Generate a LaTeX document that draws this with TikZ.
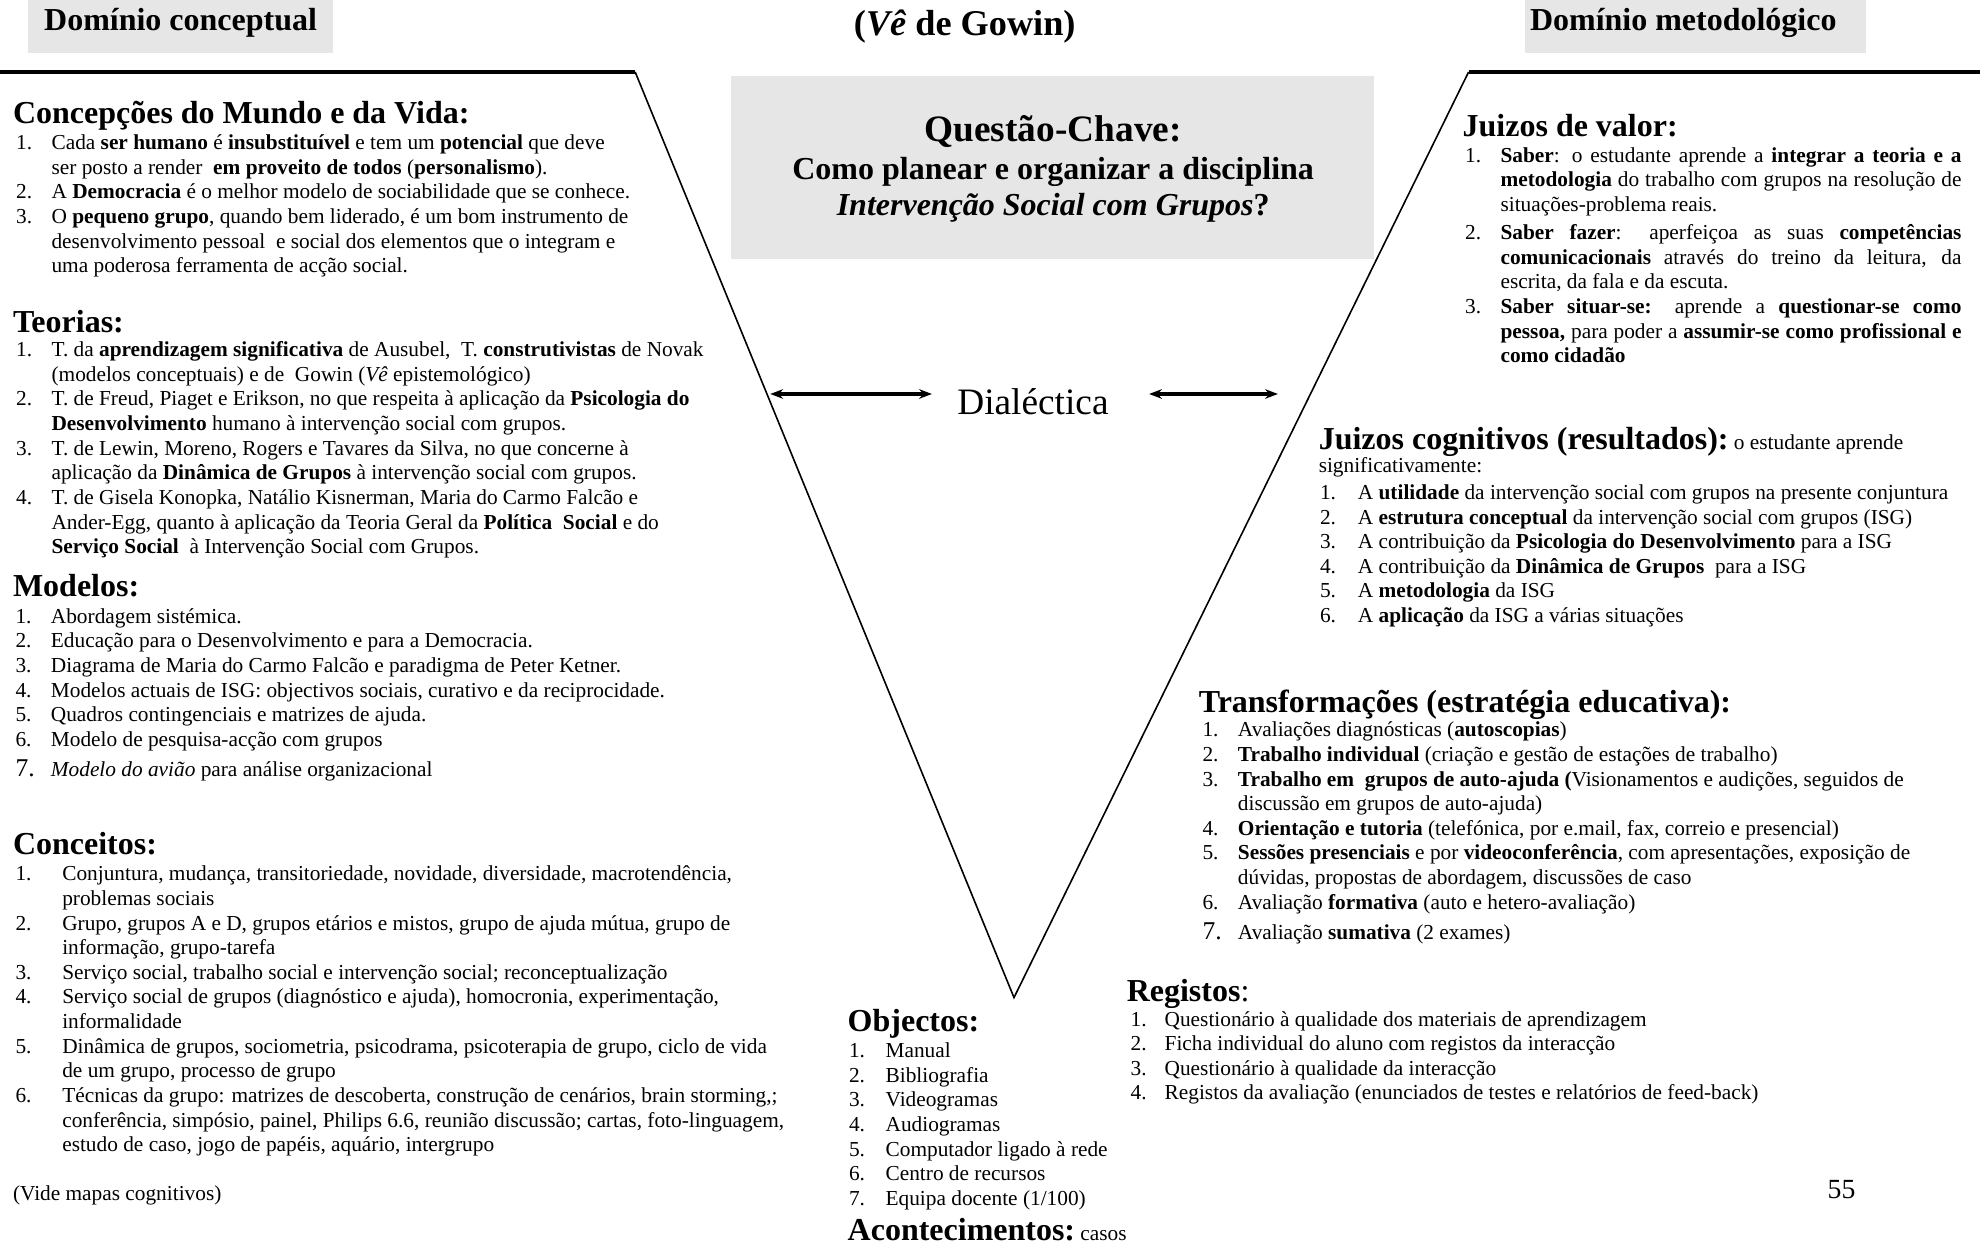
\documentclass[tikz,border=0pt]{standalone}
\usepackage{fontspec}
\setmainfont{Liberation Serif}
\usetikzlibrary{arrows.meta}
\newlength{\dpx}
\setlength{\dpx}{0.5922pt}
\definecolor{boxgray}{HTML}{E6E6E6}
\newcommand{\itemlist}[2]{\begin{tabular}[t]{@{}p{#1\dpx}@{}l@{}}#2\end{tabular}}
\newcommand{\seven}{{\fontsize{12}{12}\selectfont 7.}}
\newcommand{\jline}[1]{\makebox[365\dpx][s]{#1}}
\tikzset{
  head/.style={anchor=base west, inner sep=0pt, font=\fontsize{15}{17}\selectfont\bfseries},
  body/.style={anchor=base west, inner sep=0pt, font=\fontsize{10}{11.55}\selectfont},
  big/.style={inner sep=0pt, font=\fontsize{17.5}{20}\selectfont},
  dial/.style={{Stealth[length=6pt,width=4.5pt]}-{Stealth[length=6pt,width=4.5pt]}, line width=1.6pt},
}
\begin{document}
\begin{tikzpicture}[x=0.5922pt,y=-0.5922pt]
    \useasboundingbox (0,0) rectangle (1568,985);
    % grey boxes
    \fill[boxgray] (22,-5) rectangle (264,42);
    \fill[boxgray] (1208,-5) rectangle (1478,42);
    \fill[boxgray] (579,60) rectangle (1088,205);
    \node[head, anchor=center] (dc) at (143,18) {Domínio conceptual};
    \node[head, anchor=center] (dm) at (1333,18) {Domínio metodológico};
    \node[big, anchor=center, font=\fontsize{17}{20}\selectfont\bfseries] (gowin) at (764,21) {(\textit{Vê} de Gowin)};
    \node[big, anchor=base, font=\fontsize{17.5}{20}\selectfont\bfseries] (q) at (834,112) {Questão-Chave:};
    \node[big, anchor=base, font=\fontsize{15}{17}\selectfont\bfseries] (q1) at (834,142) {Como planear e organizar a disciplina};
    \node[big, anchor=base, font=\fontsize{15}{17}\selectfont\bfseries] (q2) at (834,171) {\textit{Intervenção Social com Grupos}?};
    % the V
    \coordinate (L0) at (0,57);
    \coordinate (L1) at (503,57);
    \coordinate (B) at (803,790);
    \coordinate (R1) at (1163,57);
    \coordinate (R0) at (1568,57);
    \draw[line width=1.5pt] (L0) -- (L1);
    \draw[line width=1.5pt] (R1) -- (R0);
    \draw[line width=0.75pt] (L1) -- (B) -- (R1);
    % dialectica
    \node[big, anchor=base] (dial) at (818,328) {Dialéctica};
    \coordinate (a1) at (610,312);
    \coordinate (a2) at (738,312);
    \coordinate (a3) at (910,312);
    \coordinate (a4) at (1012,312);
    \draw[dial] (a1) -- (a2);
    \draw[dial] (a3) -- (a4);
    % conceptual side
    \node[head] (cmv) at (10,98) {Concepções do Mundo e da Vida:};
    \node[body] (cmvl) at (12.5,118.5) {\itemlist{28}{%
      1. & Cada \textbf{ser humano} é \textbf{insubstituível} e tem um \textbf{potencial} que deve\\
         & ser posto a render\ \ \textbf{em proveito de todos} (\textbf{personalismo}).\\
      2. & A \textbf{Democracia} é o melhor modelo de sociabilidade que se conhece.\\
      3. & O \textbf{pequeno grupo}, quando bem liderado, é um bom instrumento de\\
         & desenvolvimento pessoal\ \ e social dos elementos que o integram e\\
         & uma poderosa ferramenta de acção social.}};
    \node[head] (teo) at (10,263) {Teorias:};
    \node[body] (teol) at (12.5,282.5) {\itemlist{28}{%
      1. & T. da \textbf{aprendizagem significativa} de Ausubel,\ \ T. \textbf{construtivistas} de Novak\\
         & (modelos conceptuais) e de\ \ Gowin (\textit{Vê} epistemológico)\\
      2. & T. de Freud, Piaget e Erikson, no que respeita à aplicação da \textbf{Psicologia do}\\
         & \textbf{Desenvolvimento} humano à intervenção social com grupos.\\
      3. & T. de Lewin, Moreno, Rogers e Tavares da Silva, no que concerne à\\
         & aplicação da \textbf{Dinâmica de Grupos} à intervenção social com grupos.\\
      4. & T. de Gisela Konopka, Natálio Kisnerman, Maria do Carmo Falcão e\\
         & Ander-Egg, quanto à aplicação da Teoria Geral da \textbf{Política\ \ Social} e do\\
         & \textbf{Serviço Social}\ \ à Intervenção Social com Grupos.}};
    \node[head] (mod) at (10,472) {Modelos:};
    \node[body] (modl) at (12,493.5) {\itemlist{28}{%
      1. & Abordagem sistémica.\\
      2. & Educação para o Desenvolvimento e para a Democracia.\\
      3. & Diagrama de Maria do Carmo Falcão e paradigma de Peter Ketner.\\
      4. & Modelos actuais de ISG: objectivos sociais, curativo e da reciprocidade.\\
      5. & Quadros contingenciais e matrizes de ajuda.\\
      6. & Modelo de pesquisa-acção com grupos\\[2.7pt]
      \seven & \textit{Modelo do avião} para análise organizacional}};
    \node[head] (con) at (10,677) {Conceitos:};
    \node[body] (conl) at (12,697.5) {\itemlist{37}{%
      1. & Conjuntura, mudança, transitoriedade, novidade, diversidade, macrotendência,\\
         & problemas sociais\\
      2. & Grupo, grupos A e D, grupos etários e mistos, grupo de ajuda mútua, grupo de\\
         & informação, grupo-tarefa\\
      3. & Serviço social, trabalho social e intervenção social; reconceptualização\\
      4. & Serviço social de grupos (diagnóstico e ajuda), homocronia, experimentação,\\
         & informalidade\\
      5. & Dinâmica de grupos, sociometria, psicodrama, psicoterapia de grupo, ciclo de vida\\
         & de um grupo, processo de grupo\\
      6. & Técnicas da grupo: matrizes de descoberta, construção de cenários, brain storming,;\\
         & conferência, simpósio, painel, Philips 6.6, reunião discussão; cartas, foto-linguagem,\\
         & estudo de caso, jogo de papéis, aquário, intergrupo}};
    \node[body] (vide) at (10,950.5) {(Vide mapas cognitivos)};
    % bottom of the V
    \node[head] (obj) at (671,817) {Objectos:};
    \node[body] (objl) at (672,837.5) {\itemlist{29}{%
      1. & Manual\\
      2. & Bibliografia\\
      3. & Videogramas\\
      4. & Audiogramas\\
      5. & Computador ligado à rede\\
      6. & Centro de recursos\\
      7. & Equipa docente (1/100)}};
    \node[head] (acont) at (671,982) {Acontecimentos:\fontsize{10}{11.55}\selectfont\mdseries\ casos};
    % methodological side
    \node[head] (jv) at (1158,108) {Juizos de valor:};
    \node[body] (jvl) at (1160,128.5) {\itemlist{28}{%
      1. & \jline{\textbf{Saber}: o estudante aprende a \textbf{integrar a teoria e a}}\\
         & \jline{\textbf{metodologia} do trabalho com grupos na resolução de}\\
         & situações-problema reais.\\[1.6pt]
      2. & \jline{\textbf{Saber fazer}: aperfeiçoa as suas \textbf{competências}}\\
         & \jline{\textbf{comunicacionais} através do treino da leitura, da}\\
         & escrita, da fala e da escuta.\\
      3. & \jline{\textbf{Saber situar-se:} aprende a \textbf{questionar-se como}}\\
         & \jline{\textbf{pessoa,} para poder a \textbf{assumir-se como profissional e}}\\
         & \textbf{como cidadão}}};
    \node[head] (jc) at (1044,356) {Juizos cognitivos (resultados):\fontsize{10}{11.55}\selectfont\mdseries\ o estudante aprende};
    \node[body] (jc0) at (1044,374.5) {significativamente:};
    \node[body] (jcl) at (1045,395.5) {\itemlist{30}{%
      1. & A \textbf{utilidade} da intervenção social com grupos na presente conjuntura\\
      2. & A \textbf{estrutura conceptual} da intervenção social com grupos (ISG)\\
      3. & A contribuição da \textbf{Psicologia do Desenvolvimento} para a ISG\\
      4. & A contribuição da \textbf{Dinâmica de Grupos}\ \ para a ISG\\
      5. & A \textbf{metodologia} da ISG\\
      6. & A \textbf{aplicação} da ISG a várias situações}};
    \node[head] (tr) at (949,564) {Transformações (estratégia educativa):};
    \node[body] (trl) at (952,583.5) {\itemlist{28}{%
      1. & Avaliações diagnósticas (\textbf{autoscopias})\\
      2. & \textbf{Trabalho individual} (criação e gestão de estações de trabalho)\\
      3. & \textbf{Trabalho em\ \ grupos de auto-ajuda (}Visionamentos e audições, seguidos de\\
         & discussão em grupos de auto-ajuda)\\
      4. & \textbf{Orientação e tutoria} (telefónica, por e.mail, fax, correio e presencial)\\
      5. & \textbf{Sessões presenciais} e por \textbf{videoconferência}, com apresentações, exposição de\\
         & dúvidas, propostas de abordagem, discussões de caso\\
      6. & Avaliação \textbf{formativa} (auto e hetero-avaliação)\\[2.7pt]
      \seven & Avaliação \textbf{sumativa} (2 exames)}};
    \node[head] (reg) at (892,793) {Registos\mdseries:};
    \node[body] (regl) at (895,812.5) {\itemlist{27}{%
      1. & Questionário à qualidade dos materiais de aprendizagem\\
      2. & Ficha individual do aluno com registos da interacção\\
      3. & Questionário à qualidade da interacção\\
      4. & Registos da avaliação (enunciados de testes e relatórios de feed-back)}};
    \node[body, font=\fontsize{13}{15}\selectfont] (page) at (1447,949) {55};
  \end{tikzpicture}
\end{document}
